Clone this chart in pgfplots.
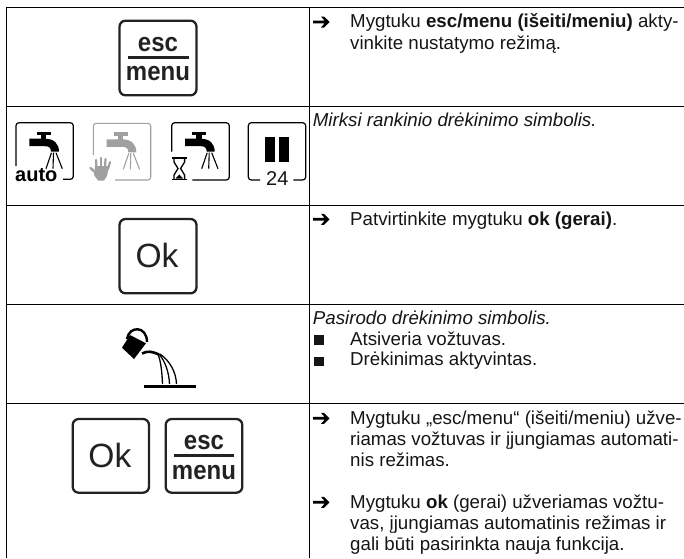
\documentclass[border=0pt]{standalone}
\usepackage{fontspec}
\setmainfont{Liberation Sans}
\usepackage{pgfplots}
\pgfplotsset{compat=1.18}
\definecolor{ink}{HTML}{151515}
\definecolor{keyc}{HTML}{222222}
\definecolor{grayi}{HTML}{A0A0A0}
\newcommand\T[3]{\node[anchor=base west,inner sep=0pt,text=ink,font=\fontsize{18.7}{20}\selectfont] at (#1,#2) {#3};}
\newcommand\arr[1]{\fill[black] (313,#1-1.4) -- (324.5,#1-1.4) -- (321,#1-5.5) -- (324,#1-5.5) -- (329.5,#1) -- (324,#1+5.5) -- (321,#1+5.5) -- (324.5,#1+1.4) -- (313,#1+1.4) -- cycle;}
\newcommand\esckey[4]{%x0,y0,x1,y1
  \draw[keyc,line width=2.3pt,rounded corners=6pt] (#1,#2) rectangle (#3,#4);
  \fill[keyc] (#1+8,#2+35.3) rectangle (#3-8,#2+38.3);
  \node[anchor=base,inner sep=0pt,text=keyc,yscale=1.1,font=\fontsize{24}{24}\selectfont\bfseries] at ({(#1+#3)/2},#2+30.5) {esc};
  \node[anchor=base,inner sep=0pt,text=keyc,yscale=1.1,font=\fontsize{24}{24}\selectfont\bfseries] at ({(#1+#3)/2},#2+60) {menu};}
\newcommand\okkey[4]{%
  \draw[keyc,line width=2.3pt,rounded corners=6pt] (#1,#2) rectangle (#3,#4);
  \node[anchor=base,inner sep=0pt,text=keyc,font=\fontsize{33.6}{34}\selectfont] at ({(#1+#3)/2-1},#2+48.5) {Ok};}
\newcommand\faucet[3]{%x,y,color
  \fill[#3] (#1+20.7,#2+9) rectangle (#1+34.7,#2+12.3);
  \fill[#3] (#1+24.7,#2+12.3) rectangle (#1+30,#2+17);
  \fill[#3] (#1+13.3,#2+16) -- (#1+29,#2+16) .. controls (#1+38,#2+16) and (#1+43,#2+21) .. (#1+43,#2+29) -- (#1+35,#2+29) .. controls (#1+35,#2+25) and (#1+33,#2+23.5) .. (#1+29,#2+23.5) -- (#1+13.3,#2+23.5) -- cycle;
  \draw[#3,line width=1.1pt] (#1+35.5,#2+30) -- (#1+30,#2+46);
  \draw[#3,line width=1.1pt] (#1+37.5,#2+30) -- (#1+37,#2+46);
  \draw[#3,line width=1.1pt] (#1+40,#2+30) -- (#1+46.3,#2+46);}
\begin{document}
\begin{tikzpicture}
\path[use as bounding box] (0,0) rectangle (684pt,558pt);
\begin{axis}[at={(0,0)},anchor=south west,scale only axis,width=684pt,height=558pt,
  xmin=0,xmax=684,ymin=0,ymax=558,y dir=reverse,hide axis,clip=true]
% table rules
\addplot[black,line width=1pt] coordinates {(6.7,7.3) (684,7.3)};
\addplot[black,line width=1pt] coordinates {(6.7,106.7) (684,106.7)};
\addplot[black,line width=1pt] coordinates {(6.7,205.3) (684,205.3)};
\addplot[black,line width=1pt] coordinates {(6.7,304) (684,304)};
\addplot[black,line width=1pt] coordinates {(6.7,403.3) (684,403.3)};
\addplot[black,line width=1pt] coordinates {(6.7,7) (6.7,558)};
\addplot[black,line width=1pt] coordinates {(309.4,7) (309.4,558)};
% keys
\esckey{119.5}{20.7}{196.5}{95.3}
\okkey{119.5}{219}{196.5}{293.3}
\okkey{72.7}{419}{149}{492.7}
\esckey{165.7}{419}{242.3}{492.7}
% icon auto
\draw[black,line width=1.2pt,rounded corners=3pt] (16,166) -- (16,122.7) -- (73.3,122.7) -- (73.3,179.3) -- (63,179.3);
\faucet{16}{122.7}{black}
\node[anchor=base west,inner sep=0pt,font=\fontsize{20}{20}\selectfont\bfseries] at (15,181.5) {auto};
% icon hand
\draw[grayi,line width=1.1pt,rounded corners=3pt] (93.3,155) -- (93.3,123.3) -- (150.7,123.3) -- (150.7,180) -- (115,180);
\faucet{93.3}{123.3}{grayi}
\fill[grayi] (95,166) -- (109,166) -- (107,176) -- (104,180.5) -- (98,180.5) -- (94,175) -- cycle;
\draw[grayi,line width=2.4pt,line cap=round] (97,174) -- (90.5,168);
\draw[grayi,line width=2.2pt,line cap=round] (96.5,168) -- (96,160);
\draw[grayi,line width=2.2pt,line cap=round] (101,168) -- (101,158);
\draw[grayi,line width=2.2pt,line cap=round] (105,168) -- (105.5,159);
\draw[grayi,line width=2.2pt,line cap=round] (108,169) -- (110,162);
% icon hourglass
\draw[black,line width=1.2pt,rounded corners=3pt] (171.7,151.7) -- (171.7,122.7) -- (229.3,122.7) -- (229.3,180) -- (192.3,180);
\faucet{171.7}{122.7}{black}
\draw[black,line width=1.8pt] (172,157.7) -- (186.5,157.7);
\draw[black,line width=1.8pt] (172,179.5) -- (186.5,179.5);
\draw[black,line width=1.3pt] (174,158) -- (174,162) -- (178,168.5) -- (174,175) -- (174,179);
\draw[black,line width=1.3pt] (184.6,158) -- (184.6,162) -- (180.6,168.5) -- (184.6,175) -- (184.6,179);
\fill[black] (175.5,178.5) -- (179.3,174.5) -- (183,178.5) -- cycle;
% icon pause
\draw[black,line width=1.2pt,rounded corners=3pt] (260,180) -- (248.3,180) -- (248.3,122.7) -- (305.7,122.7) -- (305.7,180) -- (293.3,180);
\fill[black] (265,136.7) rectangle (275,161.7);
\fill[black] (279.3,136.7) rectangle (289,161.7);
\node[anchor=base,inner sep=0pt,text=ink,font=\fontsize{20}{20}\selectfont] at (277.3,185.5) {24};
% watering can
\fill[black] (122,347.7) -- (130,335) -- (146,343.3) -- (134,359) -- cycle;
\draw[black,line width=2.4pt] (127,339) .. controls (129,325.5) and (147,325.5) .. (147,342);
\draw[black,line width=2.6pt] (142,353.5) .. controls (148,350.5) and (152,351.5) .. (159,354.5);
\draw[black,line width=1.3pt] (158,354) .. controls (161,362) and (162,372) .. (162.5,384);
\draw[black,line width=1.3pt] (159,354) .. controls (165,361) and (169,372) .. (169.5,384);
\draw[black,line width=1.3pt] (160,354) .. controls (170,361) and (176,372) .. (176.5,384);
\fill[black] (144,384.7) rectangle (196.3,387.5);
% text
\arr{22}
\T{350}{27.7}{Mygtuku \textbf{esc/menu (išeiti/meniu)} akty-}
\T{350}{49}{vinkite nustatymo režimą.}
\T{312.7}{126.7}{\itshape Mirksi rankinio drėkinimo simbolis.}
\arr{219.3}
\T{350}{225.5}{Patvirtinkite mygtuku \textbf{ok (gerai)}.}
\T{312.7}{324.3}{\itshape Pasirodo drėkinimo simbolis.}
\fill[ink] (314,335) rectangle (324,344.5);
\T{350}{345.5}{Atsiveria vožtuvas.}
\fill[ink] (314,356.5) rectangle (324,366);
\T{350}{365.7}{Drėkinimas aktyvintas.}
\arr{418.3}
\T{350}{424}{Mygtuku „esc/menu“ (išeiti/meniu) užve-}
\T{350}{445.5}{riamas vožtuvas ir įjungiamas automati-}
\T{350}{466.5}{nis režimas.}
\arr{502.3}
\T{350}{508.3}{Mygtuku \textbf{ok} (gerai) užveriamas vožtu-}
\T{350}{529.3}{vas, įjungiamas automatinis režimas ir}
\T{350}{550.5}{gali būti pasirinkta nauja funkcija.}
\end{axis}
\end{tikzpicture}
\end{document}
